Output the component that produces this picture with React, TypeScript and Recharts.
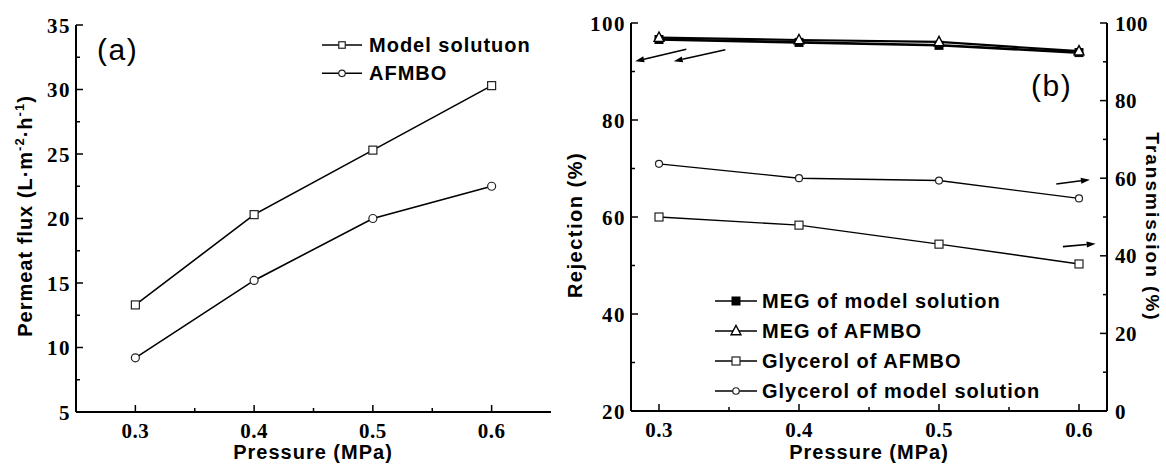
import React from 'react';
import { LineChart, Line, XAxis, YAxis, ReferenceLine, Legend } from 'recharts';

// ---------- data ----------
const pressure = [0.3, 0.4, 0.5, 0.6];
const fluxModelSolution = [13.3, 20.3, 25.3, 30.3];
const fluxAFMBO = [9.2, 15.2, 20.0, 22.5];
const megModelRejection = [96.6, 96.0, 95.4, 93.9];
const megAFMBORejection = [97.0, 96.5, 96.1, 94.2];
const glycerolAFMBOTransmission = [50.0, 47.9, 43.0, 37.9];
const glycerolModelTransmission = [63.7, 60.0, 59.4, 54.8];

const xTicks = [0.3, 0.35, 0.4, 0.45, 0.5, 0.55, 0.6];
const xMajor = [0.3, 0.4, 0.5, 0.6];
const fluxTicks = [5, 7.5, 10, 12.5, 15, 17.5, 20, 22.5, 25, 27.5, 30, 32.5, 35];
const fluxMajor = [5, 10, 15, 20, 25, 30, 35];
const rejTicks = [20, 30, 40, 50, 60, 70, 80, 90, 100];
const rejMajor = [20, 40, 60, 80, 100];
const transTicks = [0, 10, 20, 30, 40, 50, 60, 70, 80, 90, 100];
const transMajor = [0, 20, 40, 60, 80, 100];

// annotation arrows (pressure, rejection %) : from -> to
const arrowFromX = [0.3195, 0.3474, 0.5838, 0.5885];
const arrowFromY = [94.6, 94.5, 66.8, 53.9];
const arrowToX = [0.283, 0.3105, 0.6078, 0.6119];
const arrowToY = [92.1, 92.1, 67.7, 54.5];

const dataA = pressure.map((p, i) => ({ p, model: fluxModelSolution[i], afmbo: fluxAFMBO[i] }));
const dataB = pressure.map((p, i) => ({
  p,
  megModel: megModelRejection[i],
  megAfmbo: megAFMBORejection[i],
  glyAfmbo: glycerolAFMBOTransmission[i],
  glyModel: glycerolModelTransmission[i],
}));

const SANS = '"Liberation Sans", Arial, sans-serif';
const SERIF = '"Liberation Serif", "Times New Roman", serif';

const isIn = (v: number, arr: number[]) => arr.some((m) => Math.abs(m - v) < 1e-9);

const bottomTick = (majors: number[]) => (props: any) => {
  const { x, y, payload } = props;
  const major = isIn(payload.value, majors);
  return (
    <g>
      <line x1={x} x2={x} y1={y} y2={y - (major ? 7 : 4)} stroke="#000" strokeWidth={1.5} />
      {major && (
        <text x={x} y={y + 26} textAnchor="middle" fontFamily={SERIF} fontWeight="bold" fontSize={21} fill="#000" letterSpacing={0.5}>
          {Number(payload.value).toFixed(1)}
        </text>
      )}
    </g>
  );
};

const leftTick = (majors: number[]) => (props: any) => {
  const { x, y, payload } = props;
  const major = isIn(payload.value, majors);
  return (
    <g>
      <line x1={x} x2={x + (major ? 7 : 4)} y1={y} y2={y} stroke="#000" strokeWidth={1.5} />
      {major && (
        <text x={x - 5} y={y} dy="0.36em" textAnchor="end" fontFamily={SERIF} fontWeight="bold" fontSize={21} fill="#000" letterSpacing={1.5}>
          {payload.value}
        </text>
      )}
    </g>
  );
};

const rightTick = (majors: number[]) => (props: any) => {
  const { x, y, payload } = props;
  const major = isIn(payload.value, majors);
  return (
    <g>
      <line x1={x} x2={x - (major ? 7 : 4)} y1={y} y2={y} stroke="#000" strokeWidth={1.5} />
      {major && (
        <text x={x + 8} y={y} dy="0.36em" textAnchor="start" fontFamily={SERIF} fontWeight="bold" fontSize={21} fill="#000" letterSpacing={0.5}>
          {payload.value}
        </text>
      )}
    </g>
  );
};

type Kind = 'square' | 'circle' | 'filledSquare' | 'triangle';

const Marker = ({ kind, cx, cy, s }: { kind: Kind; cx: number; cy: number; s: number }) => {
  if (kind === 'square')
    return <rect x={cx - s / 2} y={cy - s / 2} width={s} height={s} fill="#fff" stroke="#222" strokeWidth={1.2} />;
  if (kind === 'filledSquare')
    return <rect x={cx - s / 2} y={cy - s / 2} width={s} height={s} fill="#000" stroke="#000" strokeWidth={1} />;
  if (kind === 'triangle')
    return (
      <polygon
        points={`${cx},${cy - s * 0.62} ${cx - s * 0.55},${cy + s * 0.42} ${cx + s * 0.55},${cy + s * 0.42}`}
        fill="#fff"
        stroke="#000"
        strokeWidth={1.4}
      />
    );
  return <circle cx={cx} cy={cy} r={s / 2} fill="#fff" stroke="#222" strokeWidth={1.2} />;
};

const dotOf = (kind: Kind, s: number) => (props: any) => {
  const { cx, cy, index } = props;
  if (cx == null || cy == null) return <g key={`d${index}`} />;
  return (
    <g key={`d${kind}${index}`}>
      <Marker kind={kind} cx={cx} cy={cy} s={s} />
    </g>
  );
};

const arrowShape = (props: any) => {
  const { x1, y1, x2, y2 } = props;
  if ([x1, y1, x2, y2].some((v) => v == null || isNaN(v))) return <g />;
  const dx = x2 - x1;
  const dy = y2 - y1;
  const len = Math.sqrt(dx * dx + dy * dy) || 1;
  const ux = dx / len;
  const uy = dy / len;
  const hl = 9;
  const hw = 3;
  const bx = x2 - ux * hl;
  const by = y2 - uy * hl;
  return (
    <g>
      <line x1={x1} y1={y1} x2={bx} y2={by} stroke="#000" strokeWidth={1.6} />
      <polygon points={`${x2},${y2} ${bx - uy * hw},${by + ux * hw} ${bx + uy * hw},${by - ux * hw}`} fill="#000" />
    </g>
  );
};

const legendKindsA: Record<string, Kind> = { model: 'square', afmbo: 'circle' };
const legendOrderA = ['model', 'afmbo'];
const legendKindsB: Record<string, Kind> = {
  megModel: 'filledSquare',
  megAfmbo: 'triangle',
  glyAfmbo: 'square',
  glyModel: 'circle',
};
const legendOrderB = ['megModel', 'megAfmbo', 'glyAfmbo', 'glyModel'];
const legendSizeB: Record<string, number> = { megModel: 8, megAfmbo: 9, glyAfmbo: 8, glyModel: 6.5 };

const legendA = (props: any) => {
  const payload = [...(props.payload || [])].sort(
    (a: any, b: any) => legendOrderA.indexOf(a.dataKey) - legendOrderA.indexOf(b.dataKey)
  );
  return (
    <svg width={240} height={62} style={{ display: 'block', overflow: 'visible' }}>
      {payload.map((e: any, i: number) => {
        const cy = 15 + i * 28.3;
        return (
          <g key={e.dataKey}>
            <line x1={2} x2={42} y1={cy} y2={cy} stroke="#000" strokeWidth={1.5} />
            <Marker kind={legendKindsA[e.dataKey]} cx={22} cy={cy} s={6.5} />
            <text x={49} y={cy + 7} fontFamily={SANS} fontWeight="bold" fontSize={20} letterSpacing={1} fill="#000">
              {e.value}
            </text>
          </g>
        );
      })}
    </svg>
  );
};

const legendB = (props: any) => {
  const payload = [...(props.payload || [])].sort(
    (a: any, b: any) => legendOrderB.indexOf(a.dataKey) - legendOrderB.indexOf(b.dataKey)
  );
  return (
    <svg width={380} height={125} style={{ display: 'block', overflow: 'visible' }}>
      {payload.map((e: any, i: number) => {
        const cy = 16 + i * 30;
        return (
          <g key={e.dataKey}>
            <line x1={5} x2={47} y1={cy} y2={cy} stroke="#000" strokeWidth={1.6} />
            <Marker kind={legendKindsB[e.dataKey]} cx={26} cy={cy} s={legendSizeB[e.dataKey]} />
            <text x={52} y={cy + 7} fontFamily={SANS} fontWeight="bold" fontSize={20} letterSpacing={1} fill="#000">
              {e.value}
            </text>
          </g>
        );
      })}
    </svg>
  );
};

const axisLine = { stroke: '#000', strokeWidth: 2 };

const ChartA = () => (
  <LineChart width={560} height={465} data={dataA} margin={{ top: 25, right: 9, bottom: 0, left: 0 }}>
    <XAxis
      dataKey="p"
      type="number"
      domain={[0.25, 0.65]}
      ticks={xTicks}
      interval={0}
      height={53}
      tickSize={0}
      tickMargin={0}
      tickLine={false}
      axisLine={axisLine}
      tick={bottomTick(xMajor)}
    />
    <XAxis xAxisId="top" orientation="top" type="number" domain={[0, 1]} height={0} tick={false} tickLine={false} axisLine={axisLine} />
    <YAxis
      type="number"
      domain={[5, 35]}
      ticks={fluxTicks}
      interval={0}
      width={76}
      tickSize={0}
      tickMargin={0}
      tickLine={false}
      axisLine={axisLine}
      tick={leftTick(fluxMajor)}
    />
    <YAxis yAxisId="frame" orientation="right" type="number" domain={[0, 1]} width={0} tick={false} tickLine={false} axisLine={axisLine} />
    <Legend
      layout="horizontal"
      verticalAlign="middle"
      align="center"
      content={legendA}
      wrapperStyle={{ left: 320, top: 30, width: 240, height: 62 }}
    />
    <Line
      dataKey="model"
      name="Model solutuon"
      type="linear"
      stroke="#000"
      strokeWidth={1.6}
      dot={dotOf('square', 8)}
      activeDot={false}
      isAnimationActive={false}
    />
    <Line
      dataKey="afmbo"
      name="AFMBO"
      type="linear"
      stroke="#000"
      strokeWidth={1.6}
      dot={dotOf('circle', 8)}
      activeDot={false}
      isAnimationActive={false}
    />
  </LineChart>
);

const ChartB = () => (
  <LineChart width={606} height={465} data={dataB} margin={{ top: 23, right: 0, bottom: 0, left: 0 }}>
    <XAxis
      dataKey="p"
      type="number"
      domain={[0.28, 0.62]}
      ticks={xTicks}
      interval={0}
      height={54}
      tickSize={0}
      tickMargin={0}
      tickLine={false}
      axisLine={axisLine}
      tick={bottomTick(xMajor)}
    />
    <XAxis xAxisId="top" orientation="top" type="number" domain={[0, 1]} height={0} tick={false} tickLine={false} axisLine={axisLine} />
    <YAxis
      yAxisId="rej"
      type="number"
      domain={[20, 100]}
      ticks={rejTicks}
      interval={0}
      width={71}
      tickSize={0}
      tickMargin={0}
      tickLine={false}
      axisLine={axisLine}
      tick={leftTick(rejMajor)}
    />
    <YAxis
      yAxisId="tr"
      orientation="right"
      type="number"
      domain={[0, 100]}
      ticks={transTicks}
      interval={0}
      width={59}
      tickSize={0}
      tickMargin={0}
      tickLine={false}
      axisLine={axisLine}
      tick={rightTick(transMajor)}
    />
    <Legend
      layout="horizontal"
      verticalAlign="middle"
      align="center"
      content={legendB}
      wrapperStyle={{ left: 150, top: 285, width: 380, height: 125 }}
    />
    {arrowFromX.map((fx, i) => (
      <ReferenceLine
        key={`arrow${i}`}
        yAxisId="rej"
        segment={[
          { x: fx, y: arrowFromY[i] },
          { x: arrowToX[i], y: arrowToY[i] },
        ]}
        ifOverflow="visible"
        shape={arrowShape}
      />
    ))}
    <Line
      yAxisId="tr"
      dataKey="glyAfmbo"
      name="Glycerol of AFMBO"
      type="linear"
      stroke="#000"
      strokeWidth={1.4}
      dot={dotOf('square', 8)}
      activeDot={false}
      isAnimationActive={false}
    />
    <Line
      yAxisId="tr"
      dataKey="glyModel"
      name="Glycerol of model solution"
      type="linear"
      stroke="#000"
      strokeWidth={1.4}
      dot={dotOf('circle', 7)}
      activeDot={false}
      isAnimationActive={false}
    />
    <Line
      yAxisId="rej"
      dataKey="megModel"
      name="MEG of model solution"
      type="linear"
      stroke="#000"
      strokeWidth={2.6}
      dot={dotOf('filledSquare', 8)}
      activeDot={false}
      isAnimationActive={false}
    />
    <Line
      yAxisId="rej"
      dataKey="megAfmbo"
      name="MEG of AFMBO"
      type="linear"
      stroke="#000"
      strokeWidth={2.2}
      dot={dotOf('triangle', 9)}
      activeDot={false}
      isAnimationActive={false}
    />
  </LineChart>
);

const Titles = () => (
  <svg width={1166} height={465} style={{ position: 'absolute', left: 0, top: 0, pointerEvents: 'none' }}>
    <text x={97} y={60} fontFamily={SANS} fontSize={30} letterSpacing={1.5} fill="#000">(a)</text>
    <text x={1031} y={96} fontFamily={SANS} fontSize={30} letterSpacing={1.5} fill="#000">(b)</text>
    <text x={313} y={459} textAnchor="middle" fontFamily={SANS} fontWeight="bold" fontSize={20} letterSpacing={1} fill="#000">
      Pressure (MPa)
    </text>
    <text x={869} y={459} textAnchor="middle" fontFamily={SANS} fontWeight="bold" fontSize={20} letterSpacing={1} fill="#000">
      Pressure (MPa)
    </text>
    <text
      transform="translate(32,216) rotate(-90)"
      textAnchor="middle"
      fontFamily={SANS}
      fontWeight="bold"
      fontSize={20}
      letterSpacing={1}
      fill="#000"
    >
      Permeat flux (L·m
      <tspan dy={-8} fontSize={13}>-2</tspan>
      <tspan dy={8}>·h</tspan>
      <tspan dy={-8} fontSize={13}>-1</tspan>
      <tspan dy={8}>)</tspan>
    </text>
    <text
      transform="translate(582,225) rotate(-90)"
      textAnchor="middle"
      fontFamily={SANS}
      fontWeight="bold"
      fontSize={20}
      letterSpacing={1.5}
      fill="#000"
    >
      Rejection (%)
    </text>
    <text
      transform="translate(1146,227) rotate(90)"
      textAnchor="middle"
      fontFamily={SANS}
      fontWeight="bold"
      fontSize={19}
      letterSpacing={2}
      fill="#000"
    >
      Transmission (%)
    </text>
  </svg>
);

export default function App() {
  return (
    <div style={{ position: 'absolute', left: 0, top: 0, width: 1166, height: 465, background: '#fff', overflow: 'hidden' }}>
      <div style={{ position: 'absolute', left: 0, top: 0 }}>
        <ChartA />
      </div>
      <div style={{ position: 'absolute', left: 560, top: 0 }}>
        <ChartB />
      </div>
      <Titles />
    </div>
  );
}
